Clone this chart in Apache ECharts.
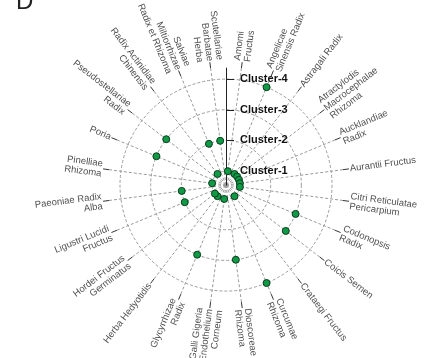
<!DOCTYPE html>
<html>
<head>
<meta charset="utf-8">
<script src="https://cdn.jsdelivr.net/npm/echarts@6/dist/echarts.min.js"></script>
<style>
  html, body { margin: 0; padding: 0; background: #fff; }
  #chart { width: 438px; height: 358px; }
</style>
</head>
<body>
<div id="chart"></div>
<script>
// herbs around the circle, clockwise from the top
const herbs = [
  'Amomi\nFructus', 'Angelicae\nSinensis Radix', 'Astragali Radix',
  'Atractylodis\nMacrocephalae\nRhizoma', 'Aucklandiae\nRadix', 'Aurantii Fructus',
  'Citri Reticulatae\nPericarpium', 'Codonopsis\nRadix', 'Coicis Semen',
  'Crataegi Fructus', 'Curcumae\nRhizoma', 'Dioscoreae\nRhizoma',
  'Galli Gigeria\nEndothelium\nCorneum', 'Glycyrrhizae\nRadix', 'Herba Hedyotidis',
  'Hordei Fructus\nGerminatus', 'Ligustri Lucidi\nFructus', 'Paeoniae Radix\nAlba',
  'Pinelliae\nRhizoma', 'Poria', 'Pseudostellariae\nRadix',
  'Radix Actinidiae\nChinensis', 'Salviae\nMiltiorrhizae\nRadix et Rhizoma', 'Scutellariae\nBarbatae\nHerba'
];
// cluster each herb falls in
const cluster = [1, 4, 1, 1, 1, 1, 1, 3, 3, 1, 4, 3, 1, 3, 1, 1, 2, 2, 1, 3, 3, 1, 2, 2];
const clusterNames = ['Cluster-1', 'Cluster-2', 'Cluster-3', 'Cluster-4'];

const chart = echarts.init(document.getElementById('chart'));
const center = ['51.6%', '51.7%'];
const step = 360 / herbs.length;
const font = 'Liberation Sans, Arial, sans-serif';

// herb names sit at the end of each spoke, turned along it
const labelData = herbs.map((h, i) => {
  const a = step / 2 + step * i;
  const right = a < 180;
  return {
    value: [1, i],
    label: {
      rotate: right ? 90 - a : 270 - a,
      align: right ? 'left' : 'right',
      padding: right ? [0, 0, 0, 7] : [0, 7, 0, 0]
    }
  };
});

chart.setOption({
  animation: false,
  title: {
    text: 'D', left: 16, top: -10, padding: 0,
    textStyle: { fontSize: 24, fontWeight: 'normal', color: '#222', fontFamily: font }
  },
  polar: [
    { center: center, radius: [0, 118] },   // spokes + herb labels
    { center: center, radius: [0, 117] },   // vertical axis line
    { center: center, radius: [14, 106] }   // cluster rings + points
  ],
  angleAxis: [
    {
      polarIndex: 0, type: 'category', data: herbs, boundaryGap: false,
      startAngle: 90 - step / 2, clockwise: true,
      axisLine: { show: false },
      axisTick: { show: true, length: 6, lineStyle: { color: '#333' } },
      axisLabel: { show: false },
      splitLine: { show: true, lineStyle: { color: '#9a9a9a', type: [3, 2], width: 1 } }
    },
    { polarIndex: 1, type: 'value', min: 0, max: 360, startAngle: 90, show: false },
    {
      polarIndex: 2, type: 'category', data: herbs, boundaryGap: true,
      startAngle: 90, clockwise: true, show: false
    }
  ],
  radiusAxis: [
    { polarIndex: 0, type: 'value', min: 0, max: 1, show: false },
    {
      polarIndex: 1, type: 'value', min: 0, max: 1,
      axisLine: { show: true, lineStyle: { color: '#222', width: 1 } },
      axisTick: { show: false }, axisLabel: { show: false }, splitLine: { show: false }
    },
    {
      polarIndex: 2, type: 'value', min: 1, max: 4, interval: 1,
      axisLine: { show: false },
      // negative sizes put ticks and names on the right of the line
      axisTick: { show: true, length: -8, lineStyle: { color: '#222' } },
      axisLabel: {
        margin: -14, align: 'left', verticalAlign: 'middle',
        color: '#111', fontSize: 11, fontWeight: 'bold', fontFamily: font,
        formatter: v => clusterNames[v - 1]
      },
      splitLine: { show: true, lineStyle: { color: '#9a9a9a', type: [3, 2], width: 1 } }
    }
  ],
  series: [
    {
      type: 'scatter', coordinateSystem: 'polar', polarIndex: 0,
      symbolSize: 0.01, silent: true,
      data: labelData,
      label: {
        show: true, position: 'inside', verticalAlign: 'middle',
        color: '#222', fontSize: 9.5, lineHeight: 10, fontFamily: font,
        formatter: p => herbs[p.data.value[1]]
      }
    },
    {
      type: 'scatter', coordinateSystem: 'polar', polarIndex: 2,
      symbolSize: 7,
      itemStyle: { color: '#0f9a45', borderColor: '#0b3a1c', borderWidth: 1, opacity: 1 },
      data: cluster.map((c, i) => [c, i]),
      z: 5
    }
  ]
});
</script>
</body>
</html>
